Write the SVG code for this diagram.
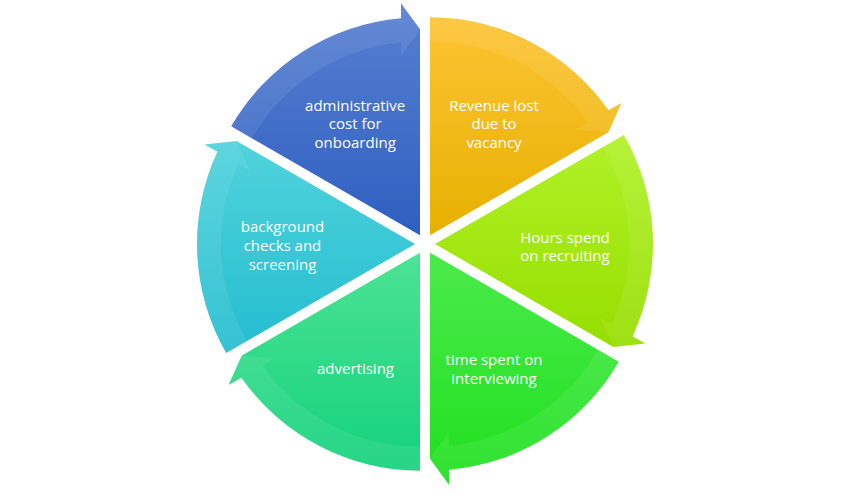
<svg xmlns="http://www.w3.org/2000/svg" width="850" height="495" viewBox="0 0 850 495">
<style>
.lbl{font-family:"Open Sans","Liberation Sans",sans-serif;font-size:15px;fill:#ffffff;text-anchor:middle}
.band{fill:#ffffff;fill-opacity:0.08}
</style>
<defs>
<linearGradient id="gBlue" x1="0" y1="0" x2="0" y2="1"><stop offset="0" stop-color="#5880d2"/><stop offset="1" stop-color="#2e5fc0"/></linearGradient>
<linearGradient id="gOrange" x1="0" y1="0" x2="0" y2="1"><stop offset="0" stop-color="#fdc433"/><stop offset="1" stop-color="#e7b000"/></linearGradient>
<linearGradient id="gLime" x1="0" y1="0" x2="0" y2="1"><stop offset="0" stop-color="#b0f228"/><stop offset="1" stop-color="#96de00"/></linearGradient>
<linearGradient id="gGreen" x1="0" y1="0" x2="0" y2="1"><stop offset="0" stop-color="#4cea4c"/><stop offset="1" stop-color="#1ee01e"/></linearGradient>
<linearGradient id="gTeal" x1="0" y1="0" x2="0" y2="1"><stop offset="0" stop-color="#4ce394"/><stop offset="1" stop-color="#14d27c"/></linearGradient>
<linearGradient id="gCyan" x1="0" y1="0" x2="0" y2="1"><stop offset="0" stop-color="#50d3dc"/><stop offset="1" stop-color="#24bdcf"/></linearGradient>
</defs>
<g id="connectors"/>
<g id="node-revenue">
<path fill="url(#gOrange)" d="M430,235.34 L430,17.34 A218,218 0 0 1 608.58,110.30 L621.42,102.89 L608.40,132.34 Z"/>
<path class="band" d="M430,17.34 A218,218 0 0 1 608.58,110.30 L621.42,102.89 L608.40,132.34 L575.52,129.39 L587.70,122.35 A194,194 0 0 0 430,41.34 Z"/>
<text class="lbl" x="494" y="110.7">Revenue lost</text>
<text class="lbl" x="494" y="129.4">due to</text>
<text class="lbl" x="494" y="148.2">vacancy</text>
</g>
<g id="node-hours">
<path fill="url(#gLime)" d="M435,244 L623.79,135 A218,218 0 0 1 632.58,336.13 L645.42,343.55 L613.40,347 Z"/>
<path class="band" d="M623.79,135 A218,218 0 0 1 632.58,336.13 L645.42,343.55 L613.40,347 L599.52,317.05 L611.70,324.08 A194,194 0 0 0 603.01,147 Z"/>
<text class="lbl" x="565" y="242.5">Hours spend</text>
<text class="lbl" x="565" y="261">on recruiting</text>
</g>
<g id="node-interviewing">
<path fill="url(#gGreen)" d="M430,252.66 L618.79,361.66 A218,218 0 0 1 449,469.83 L449,484.66 L430,458.66 Z"/>
<path class="band" d="M618.79,361.66 A218,218 0 0 1 449,469.83 L449,484.66 L430,458.66 L449,431.66 L449,445.73 A194,194 0 0 0 598.01,349.66 Z"/>
<text class="lbl" x="494" y="365">time spent on</text>
<text class="lbl" x="494" y="383.5">interviewing</text>
</g>
<g id="node-advertising">
<path fill="url(#gTeal)" d="M420,252.66 L420,470.66 A218,218 0 0 1 241.43,377.70 L228.58,385.12 L241.60,355.66 Z"/>
<path class="band" d="M420,470.66 A218,218 0 0 1 241.43,377.70 L228.58,385.12 L241.60,355.66 L274.48,358.62 L262.30,365.65 A194,194 0 0 0 420,446.66 Z"/>
<text class="lbl" x="355.5" y="374">advertising</text>
</g>
<g id="node-background">
<path fill="url(#gCyan)" d="M415,244 L226.21,353 A218,218 0 0 1 217.42,151.87 L204.58,144.46 L236.60,141 Z"/>
<path class="band" d="M226.21,353 A218,218 0 0 1 217.42,151.87 L204.58,144.46 L236.60,141 L250.48,170.96 L238.30,163.92 A194,194 0 0 0 246.99,341 Z"/>
<text class="lbl" x="282.5" y="232.3">background</text>
<text class="lbl" x="282.5" y="251">checks and</text>
<text class="lbl" x="282.5" y="269.8">screening</text>
</g>
<g id="node-admin">
<path fill="url(#gBlue)" d="M420,235.34 L231.21,126.34 A218,218 0 0 1 401,18.17 L401,3.34 L420,29.34 Z"/>
<path class="band" d="M231.21,126.34 A218,218 0 0 1 401,18.17 L401,3.34 L420,29.34 L401,56.34 L401,42.27 A194,194 0 0 0 251.99,138.34 Z"/>
<text class="lbl" x="355.2" y="110.7">administrative</text>
<text class="lbl" x="355.2" y="129.3">cost for</text>
<text class="lbl" x="355.2" y="148.3">onboarding</text>
</g>
</svg>
